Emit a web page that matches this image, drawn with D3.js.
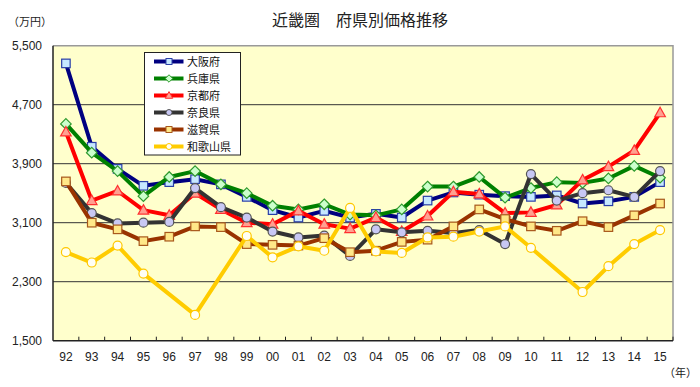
<!DOCTYPE html>
<html><head><meta charset="utf-8">
<script src="https://cdn.jsdelivr.net/npm/d3@7"></script>
<style>
html,body{margin:0;padding:0;background:#fff;}
text{font-family:"Liberation Sans","Noto Sans CJK JP",sans-serif;}
</style></head>
<body><svg id="c" width="700" height="387"></svg>
<script>
const years = ["92","93","94","95","96","97","98","99","00","01","02","03","04","05","06","07","08","09","10","11","12","13","14","15"];
const osaka    = [5260,4130,3830,3600,3650,3690,3620,3450,3270,3170,3260,3170,3220,3170,3400,3510,3480,3460,3450,3470,3360,3390,3450,3650];
const hyogo    = [4440,4050,3800,3460,3720,3800,3620,3500,3330,3280,3350,3210,3200,3280,3590,3590,3720,3440,3570,3650,3640,3700,3870,3710];
const kyoto    = [4330,3400,3530,3270,3200,3500,3280,3100,3080,3260,3080,3020,3170,2980,3190,3520,3490,3230,3240,3340,3680,3860,4080,4590];
const nara     = [3640,3230,3090,3100,3110,3570,3310,3170,2980,2900,2925,2650,3010,2970,2990,2960,3000,2810,3760,3400,3500,3540,3450,3800];
const shiga    = [3660,3100,3010,2850,2910,3050,3040,2810,2800,2790,2890,2700,2720,2840,2870,3050,3280,3150,3050,2990,3120,3040,3200,3360];
const wakayama = [2700,2560,2790,2410,null,1850,null,2920,2630,2780,2720,3300,2710,2690,2900,2910,2980,3050,2760,null,2160,2510,2810,3000];
const seriesNames = ["大阪府","兵庫県","京都府","奈良県","滋賀県","和歌山県"];
const yTicks = [1500,2300,3100,3900,4700,5500];

const styles = [
  {line:"#000080", fill:"#C6E8FF", stroke:"#2A3FA8", shape:"square"},
  {line:"#008000", fill:"#CCFFCC", stroke:"#2E9A2E", shape:"diamond"},
  {line:"#FF0000", fill:"#FFA090", stroke:"#FF3030", shape:"triangle"},
  {line:"#333333", fill:"#C8C8F4", stroke:"#555555", shape:"circle"},
  {line:"#993300", fill:"#FFE888", stroke:"#A8581C", shape:"square"},
  {line:"#FFCC00", fill:"#FFFFF4", stroke:"#FFC800", shape:"circle"}
];
const data = [osaka,hyogo,kyoto,nara,shiga,wakayama];

const svg = d3.select("#c");
const L=53, T=45.7, W=620, H=295;
const x = d3.scaleBand().domain(years).range([L,L+W]);
const y = d3.scaleLinear().domain([1500,5500]).range([T+H,T]);

// plot background
svg.append("rect").attr("x",L).attr("y",T).attr("width",W).attr("height",H).attr("fill","#FFFFCC");
// gridlines
svg.append("g").selectAll("line").data(yTicks.slice(1,5)).join("line")
  .attr("x1",L).attr("x2",L+W).attr("y1",d=>y(d)).attr("y2",d=>y(d))
  .attr("stroke","#333").attr("stroke-width",1);
// top / right border
svg.append("path").attr("d",`M${L},${T}H${L+W}V${T+H}`).attr("fill","none").attr("stroke","#999").attr("stroke-width",1.5);

// x axis
const xAxis = svg.append("g").attr("transform",`translate(0,${T+H})`);
xAxis.append("line").attr("x1",L).attr("x2",L+W).attr("stroke","#222").attr("stroke-width",1.5);
const bounds = years.map((d,i)=>x(d)).slice(1).concat([L+W]);
xAxis.selectAll(".tk").data(bounds).join("line").attr("class","tk")
  .attr("x1",d=>d).attr("x2",d=>d).attr("y1",-4).attr("y2",0).attr("stroke","#222");
xAxis.selectAll(".lb").data(years).join("text").attr("class","lb")
  .attr("x",d=>x(d)+x.bandwidth()/2).attr("y",20).attr("text-anchor","middle")
  .attr("font-size",12).attr("fill","#222").text(d=>d);
// y axis
svg.append("line").attr("x1",L).attr("x2",L).attr("y1",T).attr("y2",T+H).attr("stroke","#222").attr("stroke-width",1.5);
const fmt = d3.format(",");
svg.append("g").selectAll("text").data(yTicks).join("text")
  .attr("x",42).attr("y",d=>y(d)+4).attr("text-anchor","end").attr("font-size",12).attr("fill","#222")
  .text(d=>fmt(d));

// titles
svg.append("text").attr("x",360).attr("y",26).attr("text-anchor","middle").attr("font-size",16)
  .attr("fill","#222").text("近畿圏　府県別価格推移");
svg.append("text").attr("x",8).attr("y",26).attr("font-size",11).attr("fill","#222").text("（万円）");
svg.append("text").attr("x",664).attr("y",377).attr("font-size",11).attr("fill","#222").text("（年）");

function marker(sel, shape, s){
  if(shape==="square") return sel.append("rect").attr("x",-s/2).attr("y",-s/2).attr("width",s).attr("height",s);
  if(shape==="circle") return sel.append("circle").attr("r",s/2);
  if(shape==="diamond"){const r=s*0.62; return sel.append("path").attr("d",`M0,${-r}L${r},0L0,${r}L${-r},0Z`);}
  if(shape==="triangle"){const r=s*0.62; return sel.append("path").attr("d",`M0,${-r*1.05}L${r},${r*0.75}L${-r},${r*0.75}Z`);}
}

const line = d3.line().x(d=>x(d.year)+x.bandwidth()/2).y(d=>y(d.v));
data.forEach((vals,si)=>{
  const st = styles[si];
  const pts = vals.map((v,i)=>({year:years[i],v})).filter(d=>d.v!=null);
  const g = svg.append("g");
  g.append("path").attr("d",line(pts)).attr("fill","none").attr("stroke",st.line)
    .attr("stroke-width",4).attr("stroke-linejoin","round");
  pts.forEach(p=>{
    const m = g.append("g").attr("transform",`translate(${x(p.year)+x.bandwidth()/2},${y(p.v)})`);
    marker(m, st.shape, st.shape==="circle"?9:8.5).attr("fill",st.fill).attr("stroke",st.stroke).attr("stroke-width",1.2);
  });
});

// legend
const lg = svg.append("g");
lg.append("rect").attr("x",144.5).attr("y",52.5).attr("width",96).attr("height",102.5)
  .attr("fill","#fff").attr("stroke","#222").attr("stroke-width",1);
seriesNames.forEach((n,i)=>{
  const st = styles[i];
  const yy = 61.5 + i*17;
  lg.append("line").attr("x1",154).attr("x2",183.5).attr("y1",yy).attr("y2",yy).attr("stroke",st.line).attr("stroke-width",4);
  const m = lg.append("g").attr("transform",`translate(169,${yy})`);
  marker(m, st.shape, 6).attr("fill",st.fill).attr("stroke",st.stroke).attr("stroke-width",1);
  lg.append("text").attr("x",187).attr("y",yy+4).attr("font-size",11).attr("fill","#111").text(n);
});
</script></body></html>
